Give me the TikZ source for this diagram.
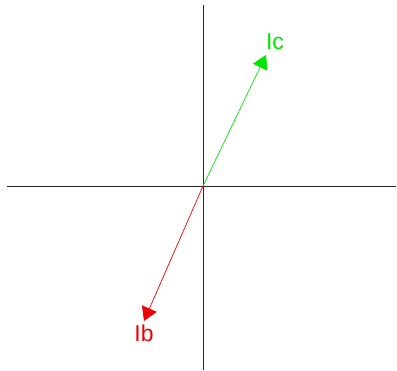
\documentclass[tikz,border=0pt]{standalone}
\usepackage{fontspec}
\setmainfont{Liberation Sans}
\usetikzlibrary{arrows.meta}
\definecolor{igreen}{RGB}{0,230,0}
\definecolor{ired}{RGB}{240,0,0}
\definecolor{axisgray}{RGB}{40,40,40}
\tikzset{
  axis/.style={draw=axisgray, line width=0.9bp},
  phasor/.style={line width=0.7bp, -{Triangle[length=13.5bp,width=16bp]}},
  lbl/.style={font=\fontsize{23}{23}\selectfont, inner sep=0pt}
}
\begin{document}
\begin{tikzpicture}[x=1bp,y=-1bp]
\useasboundingbox (0,0) rectangle (397,371);
\coordinate (O) at (203,186);
\coordinate (L) at (7,186);
\coordinate (R) at (396,186);
\coordinate (T) at (203,5);
\coordinate (B) at (203,370);
\coordinate (C) at (266,55);
\coordinate (Bt) at (144,321);
\draw[axis] (L) -- (R);
\draw[axis] (T) -- (B);
\draw[phasor, igreen] (O) -- (C);
\draw[phasor, ired] (O) -- (Bt);
\node[lbl, text=igreen] (lc) at (275,42) {Ic};
\node[lbl, text=ired] (lb) at (144,333) {Ib};
\end{tikzpicture}
\end{document}
